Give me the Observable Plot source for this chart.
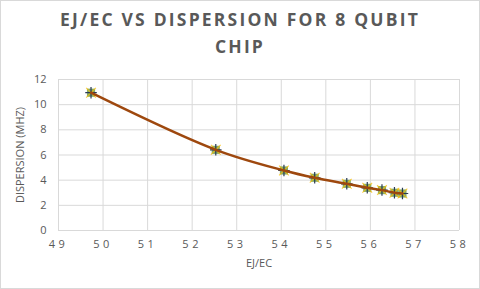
<!DOCTYPE html>
<html>
<head>
<meta charset="utf-8">
<script src="https://cdn.jsdelivr.net/npm/d3@7"></script>
<script src="https://cdn.jsdelivr.net/npm/@observablehq/plot@0.6"></script>
<style>
  body { margin: 0; background: #fff; }
  #wrap { position: relative; width: 478px; height: 287px; border: 1px solid #d9d9d9; background: #fff; overflow: hidden; }
  #title { position: absolute; left: 0; top: 5px; width: 478px; text-align: center; font-family: "Open Sans", sans-serif; font-weight: 700; font-size: 17.5px; letter-spacing: 2.2px; line-height: 27px; color: #595959; }
  #chart { position: absolute; left: 0; top: 0; }
  .xax text { letter-spacing: 3.5px; }
</style>
</head>
<body>
<div id="wrap">
  <div id="chart"></div>
  <div id="title">EJ/EC VS DISPERSION FOR 8 QUBIT<br>CHIP</div>
</div>
<script>
const ejec = [49.73, 52.53, 54.06, 54.75, 55.47, 55.93, 56.26, 56.54, 56.72];
const dispersion = [10.95, 6.41, 4.77, 4.19, 3.71, 3.39, 3.21, 3.00, 2.94];
const xTicks = [49, 50, 51, 52, 53, 54, 55, 56, 57, 58];
const yTicks = [0, 2, 4, 6, 8, 10, 12];
const xLabel = "EJ/EC";
const yLabel = "DISPERSION (MHZ)";

const data = ejec.map((x, i) => ({x, y: dispersion[i]}));
const grid = "#d9d9d9";
const txt = "#595959";

const chart = Plot.plot({
  width: 478,
  height: 287,
  marginLeft: 57,
  marginRight: 20,
  marginTop: 78,
  marginBottom: 58,
  style: {fontFamily: "'Open Sans', sans-serif", fontSize: "11px", color: txt, background: "transparent"},
  x: {domain: [49, 58]},
  y: {domain: [0, 12]},
  marks: [
    Plot.gridX(xTicks, {stroke: grid, strokeOpacity: 1}),
    Plot.gridY(yTicks, {stroke: grid, strokeOpacity: 1}),
    Plot.axisX({ticks: xTicks, tickSize: 0, tickPadding: 10, fill: txt, fontSize: 11, className: "xax",
      label: xLabel, labelAnchor: "center", labelArrow: "none", labelOffset: 36}),
    Plot.axisY({ticks: yTicks, tickSize: 0, tickPadding: 12, fill: txt, fontSize: 11,
      label: yLabel, labelAnchor: "center", labelArrow: "none", labelOffset: 42}),
    Plot.dot(data, {x: "x", y: "y", symbol: "square", r: 4.6, fill: "#77A055", fillOpacity: 0.9, stroke: "none"}),
    Plot.dot(data, {x: "x", y: "y", symbol: "times", r: 4.5, stroke: "#FFC000", strokeWidth: 1.1, strokeOpacity: 0.75}),
    Plot.dot(data, {x: "x", y: "y", symbol: "plus", r: 3.8, stroke: "#2a3a55", strokeWidth: 1.2}),
    Plot.line(data, {x: "x", y: "y", curve: "catmull-rom", stroke: "#9E480E", strokeWidth: 2.5})
  ]
});
document.getElementById("chart").appendChild(chart);
</script>
</body>
</html>
